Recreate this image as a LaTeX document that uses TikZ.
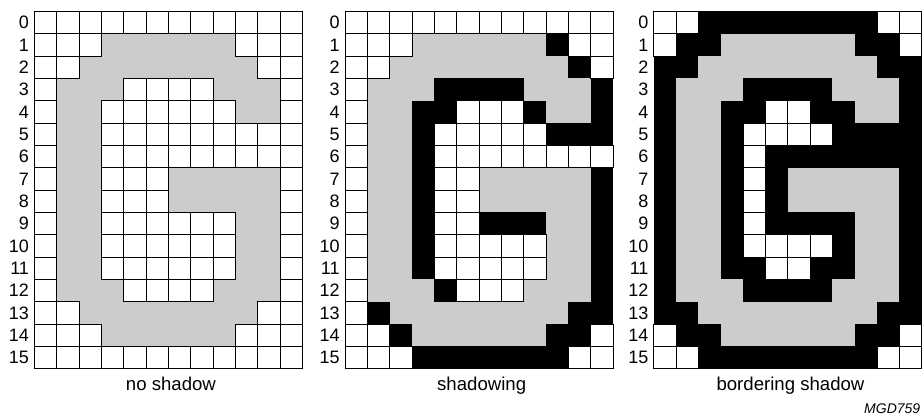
\documentclass[tikz,border=0pt]{standalone}
\usepackage{fontspec}
\setmainfont{Liberation Sans}
\definecolor{glyphgray}{RGB}{204,204,204}
\tikzset{
	cell0/.style={},
	cell1/.style={fill=glyphgray},
	cell2/.style={fill=black},
	rowlabel/.style={anchor=east, inner sep=0pt, font=\fontsize{18}{18}\selectfont},
	caption/.style={anchor=base, inner sep=0pt, font=\fontsize{18.6}{18.6}\selectfont},
}
% #1 name, #2 left edge, #3 caption, #4 rows (0 white, 1 gray, 2 black)
\newcommand{\glyphpanel}[4]{
	\begin{scope}[shift={(#2,0.515)}]
		% Flaechen zuerst
		\foreach \row [count=\r from 0] in {#4}
			\foreach \v [count=\c from 0] in \row
				\path[cell\v] (\c,\r) rectangle ++(1,1);
		% weisse Zellen mit Rahmen
		\foreach \row [count=\r from 0] in {#4}
			\foreach \v [count=\c from 0] in \row
				{\ifnum\v=0 \draw[line width=0.8pt] (\c,\r) rectangle ++(1,1); \fi}
		% Zeilen beschriften
		\foreach \r in {0,...,15} \node[rowlabel] (#1row\r) at (-0.23,\r+0.5) {\r};
		\node[caption] (#1cap) at (6.12,16.99) {#3};
	\end{scope}
}

\begin{document}
\begin{tikzpicture}[x=22.33pt, y=-22.33pt]
	\useasboundingbox (0,0) rectangle (41.29,18.63);
	\glyphpanel{none}{1.536}{no shadow}{
		{0,0,0,0,0,0,0,0,0,0,0,0},
		{0,0,0,1,1,1,1,1,1,0,0,0},
		{0,0,1,1,1,1,1,1,1,1,0,0},
		{0,1,1,1,0,0,0,0,1,1,1,0},
		{0,1,1,0,0,0,0,0,0,1,1,0},
		{0,1,1,0,0,0,0,0,0,0,0,0},
		{0,1,1,0,0,0,0,0,0,0,0,0},
		{0,1,1,0,0,0,1,1,1,1,1,0},
		{0,1,1,0,0,0,1,1,1,1,1,0},
		{0,1,1,0,0,0,0,0,0,1,1,0},
		{0,1,1,0,0,0,0,0,0,1,1,0},
		{0,1,1,0,0,0,0,0,0,1,1,0},
		{0,1,1,1,0,0,0,0,1,1,1,0},
		{0,0,1,1,1,1,1,1,1,1,0,0},
		{0,0,0,1,1,1,1,1,1,0,0,0},
		{0,0,0,0,0,0,0,0,0,0,0,0}}
	\glyphpanel{shad}{15.45}{shadowing}{
		{0,0,0,0,0,0,0,0,0,0,0,0},
		{0,0,0,1,1,1,1,1,1,2,0,0},
		{0,0,1,1,1,1,1,1,1,1,2,0},
		{0,1,1,1,2,2,2,2,1,1,1,2},
		{0,1,1,2,2,0,0,0,2,1,1,2},
		{0,1,1,2,0,0,0,0,0,2,2,2},
		{0,1,1,2,0,0,0,0,0,0,0,0},
		{0,1,1,2,0,0,1,1,1,1,1,2},
		{0,1,1,2,0,0,1,1,1,1,1,2},
		{0,1,1,2,0,0,2,2,2,1,1,2},
		{0,1,1,2,0,0,0,0,0,1,1,2},
		{0,1,1,2,0,0,0,0,0,1,1,2},
		{0,1,1,1,2,0,0,0,1,1,1,2},
		{0,2,1,1,1,1,1,1,1,1,2,2},
		{0,0,2,1,1,1,1,1,1,2,2,0},
		{0,0,0,2,2,2,2,2,2,2,0,0}}
	\glyphpanel{bord}{29.28}{bordering shadow}{
		{0,0,2,2,2,2,2,2,2,2,0,0},
		{0,2,2,1,1,1,1,1,1,2,2,0},
		{2,2,1,1,1,1,1,1,1,1,2,2},
		{2,1,1,1,2,2,2,2,1,1,1,2},
		{2,1,1,2,2,0,0,2,2,1,1,2},
		{2,1,1,2,0,0,0,0,2,2,2,2},
		{2,1,1,2,0,2,2,2,2,2,2,2},
		{2,1,1,2,0,2,1,1,1,1,1,2},
		{2,1,1,2,0,2,1,1,1,1,1,2},
		{2,1,1,2,0,2,2,2,2,1,1,2},
		{2,1,1,2,0,0,0,0,2,1,1,2},
		{2,1,1,2,2,0,0,2,2,1,1,2},
		{2,1,1,1,2,2,2,2,1,1,1,2},
		{2,2,1,1,1,1,1,1,1,1,2,2},
		{0,2,2,1,1,1,1,1,1,2,2,0},
		{0,0,2,2,2,2,2,2,2,2,0,0}}
	\node[anchor=base east, inner sep=0pt, font=\fontsize{14}{14}\itshape] (figcode) at (41.22,18.5) {MGD759};
\end{tikzpicture}
\end{document}
